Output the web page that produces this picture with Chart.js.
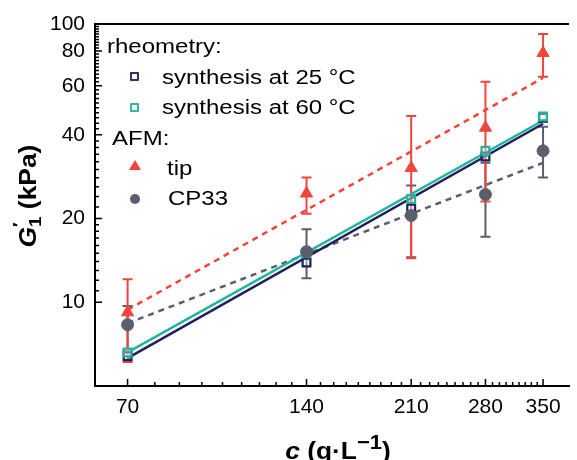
<!doctype html>
<html lang="en">
  <head>
    <meta charset="utf-8">
    <title>G1 vs concentration</title>
    <style>
      * {
        margin: 0;
        padding: 0;
      }
      body {
        background: #fff;
      }
      .chartBox {
        width: 577px;
        height: 460px;
        position: relative;
      }
    </style>
  </head>
  <body>
    <div class="chartBox">
      <canvas id="myChart"></canvas>
    </div>
    <script src="https://cdn.jsdelivr.net/npm/chart.js"></script>
    <script>

    // data
    const conc = [70, 140, 210, 280, 350];
    const rheo25 = [6.4, 13.9, 21.7, 33.4, 46.0];
    const rheo60 = [6.6, 15.0, 23.5, 35.0, 46.5];
    const tip = [9.2, 24.6, 30.4, 42.4, 78.7];
    const tipLow = [6.1, 20.8, 14.4, 23.0, 64.6];
    const tipHigh = [12.1, 28.1, 46.7, 62.0, 92.0];
    const cp33 = [8.3, 15.2, 20.5, 24.4, 35.0];
    const cp33Low = [6.7, 12.2, 14.5, 17.2, 28.1];
    const cp33High = [9.7, 18.3, 26.3, 31.7, 42.7];

    // power-law fits, end points
    const fitConc = [70, 350];
    const fit25 = [6.3, 43.8];
    const fit60 = [6.6, 45.0];
    const fitTip = [9.4, 64.0];
    const fitCp33 = [8.4, 31.7];

    // tick labels
    const xTicks = [70, 140, 210, 280, 350];
    const yTicks = [10, 20, 40, 60, 80, 100];

    const NAVY = '#1d1f5e';
    const TEAL = '#22b39b';
    const RED = '#f0453b';
    const GRAY = '#5b5f6d';
    const FONT = '"Liberation Sans", Arial, sans-serif';

    const pts = (xs, ys) => xs.map((x, i) => ({x: x, y: ys[i]}));

    const fitLine = (label, ys, color, dash) => ({
      label: label,
      data: pts(fitConc, ys),
      showLine: true,
      borderColor: color,
      borderWidth: 2.5,
      borderDash: dash,
      pointRadius: 0,
      fill: false,
      order: 5
    });

    const data = {
      datasets: [
        {
          label: 'tip',
          data: pts(conc, tip),
          pointStyle: 'triangle',
          pointRadius: 7,
          backgroundColor: RED,
          borderColor: RED,
          borderWidth: 1,
          order: 1
        },
        {
          label: 'CP33',
          data: pts(conc, cp33),
          pointStyle: 'circle',
          pointRadius: 6,
          backgroundColor: GRAY,
          borderColor: GRAY,
          borderWidth: 1,
          order: 2
        },
        {
          label: 'synthesis at 60 °C',
          data: pts(conc, rheo60),
          pointStyle: 'rect',
          pointRadius: 5.5,
          backgroundColor: 'rgba(255,255,255,0.4)',
          borderColor: TEAL,
          borderWidth: 2.2,
          order: 3
        },
        {
          label: 'synthesis at 25 °C',
          data: pts(conc, rheo25),
          pointStyle: 'rect',
          pointRadius: 5.5,
          backgroundColor: 'rgba(255,255,255,0.4)',
          borderColor: NAVY,
          borderWidth: 2.2,
          order: 3
        },
        fitLine('fit 25', fit25, NAVY, []),
        fitLine('fit 60', fit60, TEAL, []),
        fitLine('fit tip', fitTip, RED, [6, 5]),
        fitLine('fit CP33', fitCp33, GRAY, [6, 5])
      ]
    };

    // error bars, drawn under the markers
    const errorBars = {
      id: 'errorBars',
      beforeDatasetsDraw(chart) {
        const {ctx, scales: {x, y}} = chart;
        const sets = [
          [cp33Low, cp33High, GRAY],
          [tipLow, tipHigh, RED]
        ];
        ctx.save();
        ctx.lineWidth = 2;
        sets.forEach(([lo, hi, color]) => {
          ctx.strokeStyle = color;
          conc.forEach((c, i) => {
            const px = x.getPixelForValue(c);
            const y1 = y.getPixelForValue(lo[i]);
            const y2 = y.getPixelForValue(hi[i]);
            ctx.beginPath();
            ctx.moveTo(px, y1); ctx.lineTo(px, y2);
            ctx.moveTo(px - 5, y1); ctx.lineTo(px + 5, y1);
            ctx.moveTo(px - 5, y2); ctx.lineTo(px + 5, y2);
            ctx.stroke();
          });
        });
        ctx.restore();
      }
    };

    // frame top line and inward tick marks
    const frameTicks = {
      id: 'frameTicks',
      afterDraw(chart) {
        const {ctx, chartArea: a, scales: {x, y}} = chart;
        ctx.save();
        ctx.strokeStyle = '#000';
        ctx.lineWidth = 2;
        ctx.beginPath();
        ctx.moveTo(a.left, a.top); ctx.lineTo(a.right, a.top);
        ctx.stroke();

        ctx.lineWidth = 1.5;
        ctx.beginPath();
        // x ticks
        for (let k = 0; k <= 36; k++) {
          const v = 70 + k * 70 / 9;
          const px = x.getPixelForValue(v);
          const len = k % 9 === 0 ? 7 : 4;
          ctx.moveTo(px, a.bottom); ctx.lineTo(px, a.bottom - len);
        }
        // y ticks
        const yMinor = [];
        for (let v = 11; v < 20; v++) yMinor.push(v);
        for (let v = 22; v < 100; v += 2) if (!yTicks.includes(v)) yMinor.push(v);
        yTicks.forEach(v => {
          const py = y.getPixelForValue(v);
          ctx.moveTo(a.left, py); ctx.lineTo(a.left + 7, py);
        });
        yMinor.forEach(v => {
          const py = y.getPixelForValue(v);
          ctx.moveTo(a.left, py); ctx.lineTo(a.left + 4, py);
        });
        ctx.stroke();
        ctx.restore();
      }
    };

    function richText(ctx, parts, x, y, sx) {
      let w = 0;
      parts.forEach(p => { ctx.font = p.font; p.w = ctx.measureText(p.t).width; w += p.adv === false ? 0 : p.w; });
      ctx.save();
      ctx.translate(x, y);
      ctx.scale(sx, 1);
      let cx = -w / 2;
      parts.forEach(p => {
        ctx.font = p.font;
        ctx.fillText(p.t, cx, p.dy || 0);
        if (p.adv !== false) cx += p.w;
      });
      ctx.restore();
    }

    function wideText(ctx, t, x, y) {
      ctx.save();
      ctx.translate(x, y);
      ctx.scale(1.2, 1);
      ctx.fillText(t, 0, 0);
      ctx.restore();
    }

    // axis titles and legend
    const labels = {
      id: 'labels',
      afterDraw(chart) {
        const {ctx} = chart;
        ctx.save();
        ctx.fillStyle = '#000';
        ctx.textBaseline = 'alphabetic';
        ctx.textAlign = 'left';

        const b = 'bold 24px ' + FONT;
        const bi = 'italic bold 24px ' + FONT;
        const small = 'bold 17px ' + FONT;

        // x title
        richText(ctx, [
          {t: 'c', font: bi},
          {t: ' (g·L', font: b},
          {t: '−1', font: 'bold 20px ' + FONT, dy: -10},
          {t: ')', font: b}
        ], 338, 459, 1.1);

        // y title
        ctx.save();
        ctx.translate(36, 196);
        ctx.rotate(-Math.PI / 2);
        richText(ctx, [
          {t: 'G', font: bi},
          {t: '′', font: small, dy: -11, adv: false},
          {t: '1', font: small, dy: 5},
          {t: ' (kPa)', font: b}
        ], 0, 0, 1.1);
        ctx.restore();

        // legend
        ctx.font = '20px ' + FONT;
        wideText(ctx, 'rheometry:', 107, 53);
        wideText(ctx, 'synthesis at 25 °C', 162, 84);
        wideText(ctx, 'synthesis at 60 °C', 162, 114);
        wideText(ctx, 'AFM:', 112, 145);
        wideText(ctx, 'tip', 167, 175);
        wideText(ctx, 'CP33', 168, 205);

        ctx.lineWidth = 1.8;
        ctx.strokeStyle = NAVY;
        ctx.strokeRect(131, 73, 7, 7);
        ctx.strokeStyle = TEAL;
        ctx.strokeRect(131, 104, 7, 7);
        ctx.fillStyle = RED;
        ctx.beginPath();
        ctx.moveTo(135, 160); ctx.lineTo(141, 170); ctx.lineTo(129, 170);
        ctx.closePath();
        ctx.fill();
        ctx.fillStyle = GRAY;
        ctx.beginPath();
        ctx.arc(135, 199, 5, 0, Math.PI * 2);
        ctx.fill();
        ctx.restore();
      }
    };

    // config
    const config = {
      type: 'scatter',
      data,
      options: {
        responsive: true,
        maintainAspectRatio: false,
        animation: false,
        layout: {
          padding: {top: 24, right: 0, left: 0, bottom: 0}
        },
        plugins: {
          legend: {display: false},
          tooltip: {enabled: false}
        },
        scales: {
          x: {
            type: 'logarithmic',
            min: 61.7,
            max: 387,
            afterBuildTicks: s => { s.ticks = xTicks.map(v => ({value: v})); },
            afterFit: s => { s.height = 74; },
            ticks: {
              callback: v => String(v),
              color: '#000',
              font: {family: FONT, size: 21},
              padding: 9,
              maxRotation: 0,
              autoSkip: false
            },
            grid: {display: false, drawTicks: false},
            border: {display: true, color: '#000', width: 2}
          },
          y: {
            type: 'logarithmic',
            min: 5,
            max: 100,
            afterBuildTicks: s => { s.ticks = yTicks.map(v => ({value: v})); },
            afterFit: s => { s.width = 95; },
            ticks: {
              callback: v => String(v),
              color: '#000',
              font: {family: FONT, size: 21},
              padding: 10,
              autoSkip: false
            },
            grid: {display: false, drawTicks: false},
            border: {display: true, color: '#000', width: 2}
          }
        }
      },
      plugins: [errorBars, frameTicks, labels]
    };

    // render init block
    const myChart = new Chart(
      document.getElementById('myChart'),
      config
    );
    </script>
  </body>
</html>
